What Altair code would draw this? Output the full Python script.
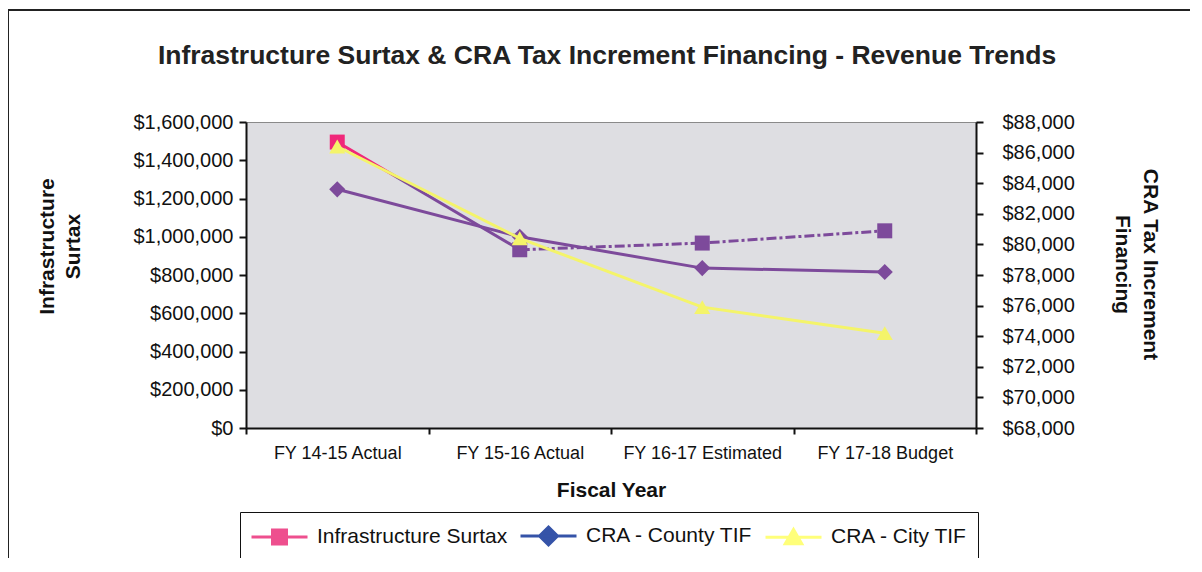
import altair as alt
import pandas as pd

categories = ["FY 14-15 Actual", "FY 15-16 Actual", "FY 16-17 Estimated", "FY 17-18 Budget"]
surtax = [1495000, 932000, 967000, 1031000]
county = [83600, 80500, 78450, 78200]
city = [86400, 80400, 75900, 74200]

series_names = ["Infrastructure Surtax", "CRA - County TIF", "CRA - City TIF"]
legend_colors = ["#ee4f8e", "#3553a8", "#ffff7a"]

PURPLE = "#7d4a9b"
PINK = "#f0287a"
YELLOW = "#f4f46a"
FONT = "Liberation Sans"

df = pd.DataFrame({"year": categories, "surtax": surtax, "county": county, "city": city})
first_two = df.iloc[:2]
rest = df.iloc[1:]

W, H = 730, 306

x_enc = alt.X(
    "year:N",
    sort=categories,
    bandPosition=0.5,
    scale=alt.Scale(type="band", domain=categories, paddingInner=0, paddingOuter=0),
    axis=alt.Axis(
        title="Fiscal Year", titleFont=FONT, titleFontSize=21, titleFontWeight="bold",
        titleColor="#111", titleY=62, titleBaseline="middle",
        labelFont=FONT, labelFontSize=18, labelColor="#111", labelAngle=0, labelPadding=10,
        tickBand="extent", tickSize=6, tickWidth=2, tickColor="#111",
        domainColor="#111", domainWidth=2, grid=False,
    ),
)

left_axis = alt.Axis(
    values=list(range(0, 1600001, 200000)), format="$,.0f",
    title=["Infrastructure", "Surtax"], titleFont=FONT, titleFontSize=21, titleFontWeight="bold",
    titleColor="#111", titleAngle=-90, titleX=-199, titleY=124, titleAlign="center",
    titleBaseline="middle", titleLineHeight=26,
    labelFont=FONT, labelFontSize=20, labelColor="#111", labelPadding=6,
    tickSize=7, tickWidth=2, tickColor="#111", domainColor="#111", domainWidth=2, grid=False,
)
left_scale = alt.Scale(domain=[0, 1600000], nice=False, zero=True)

right_axis = alt.Axis(
    values=list(range(68000, 88001, 2000)), format="$,.0f", orient="right",
    title=["CRA Tax Increment", "Financing"], titleFont=FONT, titleFontSize=21, titleFontWeight="bold",
    titleColor="#111", titleAngle=90, titleX=173, titleY=142, titleAlign="center",
    titleBaseline="middle", titleLineHeight=28,
    labelFont=FONT, labelFontSize=20, labelColor="#111", labelPadding=19,
    tickSize=7, tickWidth=2, tickColor="#111", domainColor="#111", domainWidth=2, grid=False,
)
right_scale = alt.Scale(domain=[68000, 88000], nice=False, zero=False)

y_left = alt.Y("surtax:Q", scale=left_scale, axis=left_axis)

seg_a = alt.Chart(first_two).mark_line(
    strokeWidth=3,
    stroke=alt.Gradient(
        gradient="linear",
        stops=[
            alt.GradientStop(offset=0, color=PINK),
            alt.GradientStop(offset=0.27, color=PINK),
            alt.GradientStop(offset=0.33, color=PURPLE),
            alt.GradientStop(offset=1, color=PURPLE),
        ],
        x1=0, x2=1, y1=0, y2=0,
    ),
).encode(x=x_enc, y=y_left)

seg_b = alt.Chart(rest).mark_line(
    strokeWidth=3, color=PURPLE, strokeDash=[10, 3, 3, 3]
).encode(x=x_enc, y=y_left)

sq_first = alt.Chart(df.iloc[:1]).mark_point(
    shape="square", filled=True, size=225, color=PINK, opacity=1
).encode(x=x_enc, y=y_left)

sq_rest = alt.Chart(rest).mark_point(
    shape="square", filled=True, size=225, color=PURPLE, opacity=1
).encode(x=x_enc, y=y_left)

left_layer = alt.layer(seg_a, seg_b, sq_first, sq_rest)

y_county = alt.Y("county:Q", scale=right_scale, axis=right_axis)
y_city = alt.Y("city:Q", scale=right_scale, axis=right_axis)

county_line = alt.Chart(df).mark_line(strokeWidth=3, color=PURPLE).encode(x=x_enc, y=y_county)
county_pts = alt.Chart(df).mark_point(
    shape="diamond", filled=True, size=260, color=PURPLE, opacity=1
).encode(x=x_enc, y=y_county)
city_line = alt.Chart(df).mark_line(strokeWidth=3, color=YELLOW).encode(x=x_enc, y=y_city)
city_pts = alt.Chart(df).mark_point(
    shape="triangle-up", filled=True, size=260, color=YELLOW, opacity=1
).encode(x=x_enc, y=y_city)

right_layer = alt.layer(county_line, county_pts, city_line, city_pts)

frame = alt.Chart(pd.DataFrame({"k": [0]})).mark_rect(
    fillOpacity=0, stroke="#222", strokeWidth=2
).encode(x=alt.value(-238), x2=alt.value(1000), y=alt.value(-112), y2=alt.value(700))

# legend symbols: line + marker paths
sym_paths = [
    "M-1,0H3.48M0.68,-0.56H1.8V0.56H0.68Z",
    "M-1,0H3.48M1.24,-0.72L1.96,0L1.24,0.72L0.52,0Z",
    "M-1,0H3.48M1.24,-0.62L1.9,0.52L0.58,0.52Z",
]
leg_df = pd.DataFrame({"series": series_names})
legend = alt.Legend(
    orient="none", legendX=-6, legendY=390, direction="horizontal", title=None,
    strokeColor="#111", fillColor="white", padding=10, cornerRadius=0,
    labelFont=FONT, labelFontSize=21, labelColor="#111", labelOffset=39, labelLimit=400,
    symbolSize=625, symbolStrokeWidth=3, symbolOpacity=1, columnPadding=6,
)
leg_layer = alt.Chart(leg_df).mark_point(filled=True, opacity=0).encode(
    x=alt.value(0), y=alt.value(0),
    fill=alt.Fill("series:N", sort=series_names,
                  scale=alt.Scale(domain=series_names, range=legend_colors), legend=legend),
    stroke=alt.Stroke("series:N", sort=series_names,
                      scale=alt.Scale(domain=series_names, range=legend_colors), legend=legend),
    shape=alt.Shape("series:N", sort=series_names,
                    scale=alt.Scale(domain=series_names, range=sym_paths), legend=legend),
)

chart = alt.layer(frame, left_layer, right_layer, leg_layer).resolve_scale(
    y="independent"
).properties(
    width=W, height=H,
    autosize=alt.AutoSizeParams(type="none"),
    padding={"left": 238, "top": 114, "right": 214, "bottom": 130},
    background="white",
    title=alt.TitleParams(
        "Infrastructure Surtax & CRA Tax Increment Financing - Revenue Trends",
        font=FONT, fontSize=26.5, fontWeight="bold", color="#222",
        anchor="middle", baseline="alphabetic", offset=-81, dx=-4,
    ),
).configure_view(
    fill="#dedee2", stroke="#8a8a8a", strokeWidth=1
)

chart.save("out.html", embed_options={"renderer": "svg", "actions": False})
